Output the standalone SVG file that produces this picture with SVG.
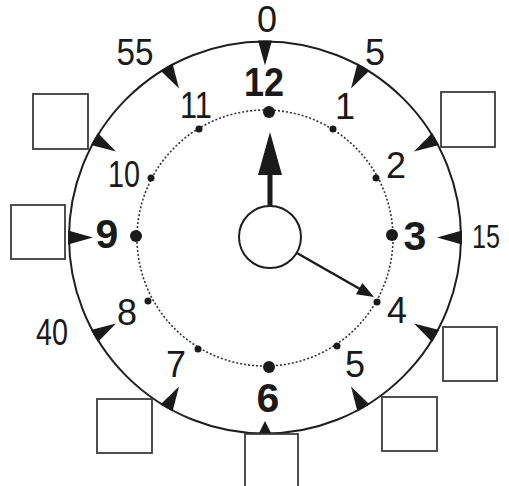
<svg xmlns="http://www.w3.org/2000/svg" xmlns:xlink="http://www.w3.org/1999/xlink" width="509" height="486" viewBox="0 0 509 486">
  <style>
    .ring { fill: none; stroke: #1e1e1e; stroke-width: 2; }
    .dotted { fill: none; stroke: #333; stroke-width: 1.6; stroke-dasharray: 2 2; }
    .box { fill: #fff; stroke: #3c3c3c; stroke-width: 1.8; }
    .num { font-family: "Liberation Sans", Arial, sans-serif; font-size: 36px; fill: #1a1a1a; text-anchor: middle; }
    .bold { font-weight: bold; font-size: 41px; }
    .ink { fill: #1a1a1a; }
  </style>
  <defs>
    <path id="ah" d="M-7,-1 L7,-1 L0,24 Z" class="ink"/>
  </defs>
  <rect width="509" height="486" fill="#fff"/>

  <g id="face">
    <circle class="ring" cx="265" cy="237.5" r="196"/>
    <circle class="dotted" cx="265" cy="238" r="128"/>
  </g>

  <g id="outer-ticks">
    <use xlink:href="#ah" transform="translate(265,237.5) rotate(0) translate(0,-196)"/>
    <use xlink:href="#ah" transform="translate(265,237.5) rotate(30) translate(0,-196)"/>
    <use xlink:href="#ah" transform="translate(265,237.5) rotate(60) translate(0,-196)"/>
    <use xlink:href="#ah" transform="translate(265,237.5) rotate(90) translate(0,-196)"/>
    <use xlink:href="#ah" transform="translate(265,237.5) rotate(120) translate(0,-196)"/>
    <use xlink:href="#ah" transform="translate(265,237.5) rotate(150) translate(0,-196)"/>
    <path class="ink" d="M265,421 L259,433 L271,433 Z"/>
    <use xlink:href="#ah" transform="translate(265,237.5) rotate(210) translate(0,-196)"/>
    <use xlink:href="#ah" transform="translate(265,237.5) rotate(240) translate(0,-196)"/>
    <use xlink:href="#ah" transform="translate(265,237.5) rotate(270) translate(0,-196)"/>
    <use xlink:href="#ah" transform="translate(265,237.5) rotate(300) translate(0,-196)"/>
    <use xlink:href="#ah" transform="translate(265,237.5) rotate(330) translate(0,-196)"/>
  </g>

  <g id="hour-dots" class="ink">
    <circle cx="269" cy="112" r="6"/>
    <circle cx="333" cy="129" r="3.5"/>
    <circle cx="376" cy="178" r="3.5"/>
    <circle cx="392" cy="235" r="6"/>
    <circle cx="377" cy="302" r="3.5"/>
    <circle cx="337" cy="346" r="3.5"/>
    <circle cx="269" cy="367" r="6"/>
    <circle cx="198" cy="349" r="3.5"/>
    <circle cx="148" cy="301" r="3.5"/>
    <circle cx="136" cy="236" r="6"/>
    <circle cx="151" cy="178" r="3.5"/>
    <circle cx="199" cy="129" r="3.5"/>
  </g>

  <g id="hands">
    <rect class="ink" x="267.5" y="172" width="5" height="36"/>
    <path class="ink" d="M270,132 L258,175 L282,175 Z"/>
    <line x1="296" y1="252.5" x2="360" y2="289" stroke="#1a1a1a" stroke-width="2.4"/>
    <path class="ink" d="M374,297 L356,294.2 L362.4,283 Z"/>
  </g>

  <g id="center-hub">
    <circle cx="270" cy="237" r="31" fill="#fff" stroke="#1e1e1e" stroke-width="2"/>
  </g>

  <g id="hour-labels" class="num">
    <text class="num bold" x="264" y="96" textLength="40" lengthAdjust="spacingAndGlyphs">12</text>
    <text x="345" y="119">1</text>
    <text x="396" y="178">2</text>
    <text class="num bold" x="415" y="250">3</text>
    <text x="397" y="323">4</text>
    <text x="355" y="377">5</text>
    <text class="num bold" x="268" y="412">6</text>
    <text x="176" y="377">7</text>
    <text x="127" y="325">8</text>
    <text class="num bold" x="107" y="248">9</text>
    <text x="124" y="187" textLength="32" lengthAdjust="spacingAndGlyphs">10</text>
    <text x="196" y="118" textLength="32" lengthAdjust="spacingAndGlyphs">11</text>
  </g>

  <g id="minute-labels" class="num">
    <text x="267" y="32">0</text>
    <text x="375" y="65">5</text>
    <text x="486" y="248" style="font-size:34px" textLength="28" lengthAdjust="spacingAndGlyphs">15</text>
    <text x="52" y="345" textLength="32" lengthAdjust="spacingAndGlyphs">40</text>
    <text x="135" y="65" textLength="37" lengthAdjust="spacingAndGlyphs">55</text>
  </g>

  <g id="boxes">
    <g id="box-2"><rect class="box" x="441" y="92" width="54" height="55"/></g>
    <g id="box-4"><rect class="box" x="443" y="327" width="54" height="54"/></g>
    <g id="box-5"><rect class="box" x="382" y="397" width="55" height="54"/></g>
    <g id="box-6"><rect class="box" x="245" y="434" width="53" height="60"/></g>
    <g id="box-7"><rect class="box" x="97" y="399" width="55" height="54"/></g>
    <g id="box-9"><rect class="box" x="11" y="205" width="54" height="54"/></g>
    <g id="box-10"><rect class="box" x="33" y="94" width="55" height="55"/></g>
  </g>
</svg>
